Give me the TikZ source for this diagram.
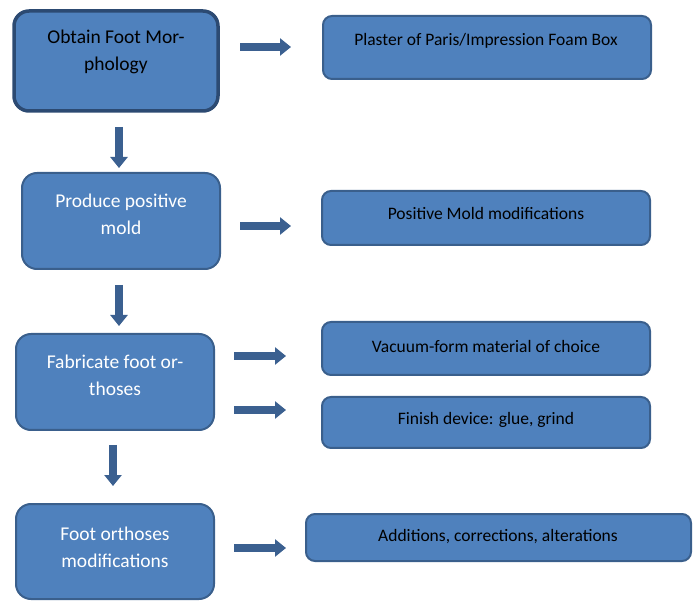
\documentclass[tikz,border=0pt]{standalone}
\usepackage{fontspec}
\setmainfont{Carlito}
\usetikzlibrary{arrows.meta}
\definecolor{boxfill}{HTML}{4F81BD}
\definecolor{boxedge}{HTML}{3A5F8C}
\definecolor{boxedgedark}{HTML}{2C4A72}
\definecolor{arrowcol}{HTML}{3B6090}
\tikzset{
  leftbox/.style={draw=boxedge, fill=boxfill, line width=2pt, rounded corners=15pt},
  firstbox/.style={leftbox, draw=boxedgedark, line width=3.5pt},
  rightbox/.style={draw=boxedge, fill=boxfill, line width=2pt, rounded corners=9pt},
  lefttext/.style={align=center, inner sep=0pt, font=\fontsize{19.5}{27}\selectfont, text=white},
  righttext/.style={inner sep=0pt, font=\fontsize{17.5}{21}\selectfont, text=black},
  blockarrow/.style={draw=arrowcol, line width=8pt, -{Triangle[width=17pt,length=11pt]}, arrowcol}
}
\begin{document}
\begin{tikzpicture}[x=1pt,y=-1pt]
\useasboundingbox (0,0) rectangle (699,601);
% left boxes
\draw[firstbox] (14,11) rectangle (218,111);
\node[lefttext, text=black] (t1) at (116,52) {Obtain Foot Mor-\\phology};
\draw[leftbox] (22,173) rectangle (220,269);
\node[lefttext] (t2) at (121,214.5) {Produce positive\\mold};
\draw[leftbox] (16,334) rectangle (214,430);
\node[lefttext] (t3) at (115,375.5) {Fabricate foot or-\\thoses};
\draw[leftbox] (16,504) rectangle (214,599);
\node[lefttext] (t4) at (115,547) {Foot orthoses\\modifications};
% right boxes
\draw[rightbox] (323,16) rectangle (651,79);
\node[righttext] (r1) at (486,41) {Plaster of Paris/Impression Foam Box};
\draw[rightbox] (322,191) rectangle (650,245);
\node[righttext] (r2) at (486,213) {Positive Mold modifications};
\draw[rightbox] (322,322) rectangle (650,375);
\node[righttext] (r3) at (486,346) {Vacuum-form material of choice};
\draw[rightbox] (322,397) rectangle (650,448);
\node[righttext] (r4) at (486,420) {Finish device: glue, grind};
\draw[rightbox] (306,514) rectangle (691,561);
\node[righttext] (r5) at (498,537) {Additions, corrections, alterations};
% arrow end points
\coordinate (h1s) at (240,47);  \coordinate (h1e) at (291,47);
\coordinate (h2s) at (240,226); \coordinate (h2e) at (291,226);
\coordinate (h3s) at (234,356); \coordinate (h3e) at (286,356);
\coordinate (h4s) at (234,410); \coordinate (h4e) at (286,410);
\coordinate (h5s) at (234,548); \coordinate (h5e) at (286,548);
\coordinate (v1s) at (119,127); \coordinate (v1e) at (119,168);
\coordinate (v2s) at (119,285); \coordinate (v2e) at (119,326);
\coordinate (v3s) at (113,445); \coordinate (v3e) at (113,486);
\draw[blockarrow] (h1s) -- (h1e);
\draw[blockarrow] (h2s) -- (h2e);
\draw[blockarrow] (h3s) -- (h3e);
\draw[blockarrow] (h4s) -- (h4e);
\draw[blockarrow] (h5s) -- (h5e);
\draw[blockarrow] (v1s) -- (v1e);
\draw[blockarrow] (v2s) -- (v2e);
\draw[blockarrow] (v3s) -- (v3e);
\end{tikzpicture}
\end{document}
